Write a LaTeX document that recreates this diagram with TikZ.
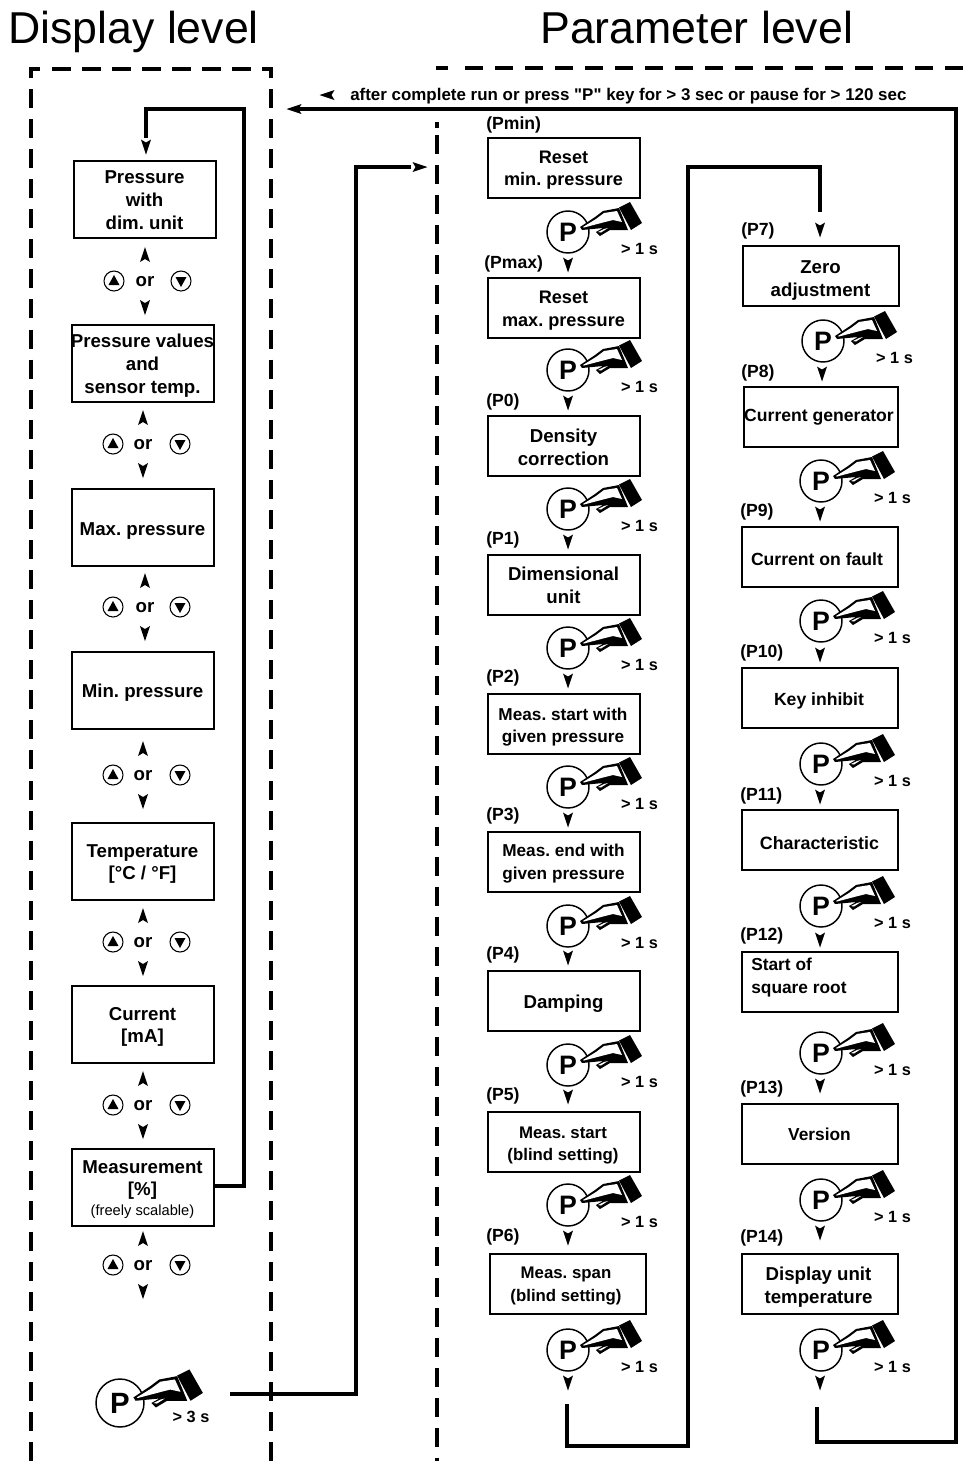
\documentclass[tikz,border=0pt]{standalone}
\usepackage{fontspec}
\setmainfont[Ligatures=TeXOff]{Liberation Sans}
\AtBeginDocument{\frenchspacing}
% name x1 y1 x2 y2 dx dy size text
\newcommand\bx[9]{\node[boxst,minimum width={(#4-#2-1)*0.75pt},minimum height={(#5-#3-1)*0.75pt}] (#1) at ({(#2+#4+1)/2},{(#3+#5+1)/2}) {};
  \node[boxtext,font=\fontsize{#8}{17}\selectfont\bfseries] (#1t) at ({(#2+#4)/2+#6},{(#3+#5)/2+#7}) {#9};}
\newcommand\plab[3]{\node[plabel,anchor=west] at (#1,{#2+1}) {#3};}
\newcommand\adn[2]{\fill[headst,shift={(#1,#2)}] (-5,-7.5) -- (0,-4.5) -- (5,-7.5) -- (0,7.5) -- cycle;}
\newcommand\aup[2]{\fill[headst,shift={(#1,#2)}] (-5,7.5) -- (0,4.5) -- (5,7.5) -- (0,-7.5) -- cycle;}
\newcommand\alf[2]{\fill[headst,shift={(#1,#2)}] (7.5,-5) -- (4.5,0) -- (7.5,5) -- (-7.5,0) -- cycle;}
\newcommand\art[2]{\fill[headst,shift={(#1,#2)}] (-7.5,-5) -- (-4.5,0) -- (-7.5,5) -- (7.5,0) -- cycle;}
\newcommand\handshape{%
  \fill (12,-5) -- (27,-15) -- (35,-21) -- (51,-24) -- (60,-2) -- (42,-2) -- (32,4) -- (28,0) -- (35,-4) -- (14,-2) -- cycle;
  \fill[white] (15,-5) -- (28,-13) -- (36,-19) -- (49,-21) -- (54,-10) -- (45,-12) -- (37,-10) -- (16,-4.5) -- cycle;
  \fill[white] (30,0) -- (36,-3) -- (40,-4) -- (33,.5) -- cycle;
  \fill (51,-24.5) -- (62,-30) -- (74,-9) -- (63,-2) -- cycle;}
\newcommand\pbt[4]{% name, x, y, time
  \node[pcirc] (#1) at (#2,#3) {P};
  \begin{scope}[shift={(#2,#3)}]\handshape\end{scope}
  \node[timest] at ({#2+71.5},{#3+17}) {> #4 s};}
\newcommand\ors[4]{% cx y buttonL buttonR
  \node[orst] at (#1,{#2+1}) {or};
  \aup{#1}{#2-26.5}\adn{#1}{#2+26.5}
  \node[btn] at (#3,#2) {}; \fill ({#3-5.5},{#2+4}) -- ({#3+5.5},{#2+4}) -- (#3,{#2-6}) -- cycle;
  \node[btn] at (#4,#2) {}; \fill ({#4-5.5},{#2-4}) -- ({#4+5.5},{#2-4}) -- (#4,{#2+6}) -- cycle;}
\tikzset{
  boxst/.style={draw,line width=1.5pt,inner sep=0pt,outer sep=0pt},
  boxtext/.style={inner sep=0pt,align=center},
  plabel/.style={inner sep=0pt,font=\fontsize{13.2}{15}\selectfont\bfseries},
  timest/.style={inner sep=0pt,font=\fontsize{12.2}{14}\selectfont\bfseries},
  orst/.style={inner sep=0pt,font=\fontsize{14}{17}\selectfont\bfseries},
  pcirc/.style={circle,draw,line width=1.1pt,fill=white,minimum size=31.5pt,inner sep=0pt,outer sep=0pt,font=\fontsize{20}{20}\selectfont\bfseries},
  btn/.style={circle,draw,line width=.8pt,minimum size=15pt,inner sep=0pt},
  headst/.style={fill=black},
  link/.style={line width=2.4pt,line join=miter},
  frame/.style={line width=2.5pt,line join=miter},
  dashframe/.style={frame,dash pattern=on 14.25pt off 8.3pt},
  title/.style={inner sep=0pt,anchor=base west,font=\fontsize{33.5}{36}\selectfont},
}
\begin{document}
\begin{tikzpicture}[x=0.75pt,y=-0.75pt]
\useasboundingbox (0,0) rectangle (972,1461);
\node[title] at (8,43) {Display level};
\node[title] at (540,43) {Parameter level};
% dashed frames
\draw[frame] (40,69) -- (31,69) -- (31,78);
\draw[frame] (262,69) -- (271,69) -- (271,78);
\draw[dashframe] (52,69) -- (262,69);
\draw[dashframe] (31,89) -- (31,1461);
\draw[dashframe] (271,89) -- (271,1461);
\draw[frame] (437,122) -- (437,128);
\draw[dashframe] (437,135) -- (437,1461);
\draw[frame] (436,68) -- (448,68);
\draw[frame,dash pattern=on 13.7pt off 8.8pt] (465,68) -- (964,68);
% Display boxes
\bx{d1}{73}{160}{216}{238}{0}{1}{14}{Pressure\\with\\dim. unit}
\bx{d2}{71}{324}{214}{402}{0}{2.5}{14}{Pressure values\\and\\sensor temp.}
\bx{d3}{71}{488}{214}{566}{0}{4.5}{14}{Max. pressure}
\bx{d4}{71}{651}{214}{729}{0}{2.5}{14}{Min. pressure}
\bx{d5}{71}{822}{214}{900}{0}{3}{14}{Temperature\\{}[°C / °F]}
\bx{d6}{71}{985}{214}{1063}{0}{3}{14}{Current\\{}[mA]}
\bx{d7}{71}{1148}{214}{1226}{0}{2.5}{14}{Measurement\\{}[\%]\\[-2pt]{\fontsize{11}{13}\selectfont\mdseries (freely scalable)}}
\ors{145}{281}{114}{181}
\ors{143}{444}{113}{180}
\ors{145}{607}{113}{180}
\ors{143}{775}{113}{180}
\ors{143}{942}{113}{180}
\ors{143}{1105}{113}{180}
\ors{143}{1265}{113}{180}
\adn{146}{147}
% left parameter column
\bx{a0}{487}{137}{640}{198}{0}{2.5}{13.6}{Reset\\min. pressure}
\bx{a1}{487}{277}{640}{338}{0}{3}{13.6}{Reset\\max. pressure}
\bx{a2}{487}{415}{640}{476}{0}{1.5}{14}{Density\\correction}
\bx{a3}{487}{554}{640}{615}{0}{0.5}{14}{Dimensional\\unit}
\bx{a4}{487}{693}{640}{754}{-.5}{3.5}{12.9}{Meas. start with\\given pressure}
\bx{a5}{487}{831}{640}{892}{0}{2}{12.9}{Meas. end with\\given pressure}
\bx{a6}{487}{970}{640}{1031}{0}{3}{14}{Damping}
\bx{a7}{487}{1111}{640}{1172}{-.5}{4}{12.6}{Meas. start\\(blind setting)}
\bx{a8}{489}{1253}{646}{1314}{-1.5}{2.5}{12.6}{Meas. span\\(blind setting)}
\plab{486}{124}{(Pmin)}
\plab{484}{263}{(Pmax)}
\plab{486}{401}{(P0)}
\plab{486}{539}{(P1)}
\plab{486}{677}{(P2)}
\plab{486}{815}{(P3)}
\plab{486}{954}{(P4)}
\plab{486}{1095}{(P5)}
\plab{486}{1236}{(P6)}
% right parameter column
\bx{b0}{742}{245}{899}{306}{0}{5}{14}{Zero\\adjustment}
\bx{b1}{743}{386}{898}{447}{-1.5}{1}{13.2}{Current generator}
\bx{b2}{741}{526}{898}{587}{-2.5}{2.5}{13.2}{Current on fault}
\bx{b3}{741}{667}{898}{728}{-.5}{3.5}{13.2}{Key inhibit}
\bx{b4}{741}{809}{898}{870}{0}{3.5}{13.4}{Characteristic}
\node[boxst,minimum width={156*0.75pt},minimum height={60*0.75pt}] (b5) at (820,982) {};
\node[boxtext,align=left,anchor=west,font=\fontsize{13}{17}\selectfont\bfseries] (b5t) at (751,977.5) {Start of\\square root};
\bx{b6}{741}{1103}{898}{1164}{0}{0.5}{13}{Version}
\bx{b7}{741}{1253}{898}{1314}{-1}{3.5}{14}{Display unit\\temperature}
\plab{741}{230}{(P7)}
\plab{741}{372}{(P8)}
\plab{740}{511}{(P9)}
\plab{740}{652}{(P10)}
\plab{740}{795}{(P11)}
\plab{740}{935}{(P12)}
\plab{740}{1088}{(P13)}
\plab{740}{1237}{(P14)}
% P keys
\pbt{pa0}{568}{232}{1}\adn{568}{265}
\pbt{pa1}{568}{370}{1}\adn{568}{403}
\pbt{pa2}{568}{509}{1}\adn{568}{542}
\pbt{pa3}{568}{648}{1}\adn{568}{681}
\pbt{pa4}{568}{787}{1}\adn{568}{820}
\pbt{pa5}{568}{926}{1}\adn{568}{958}
\pbt{pa6}{568}{1065}{1}\adn{568}{1097}
\pbt{pa7}{568}{1205}{1}\adn{568}{1238}
\pbt{pa8}{568}{1350}{1}\adn{568}{1383}
\pbt{pb0}{823}{341}{1}\adn{822}{374}
\pbt{pb1}{821}{481}{1}\adn{820}{514}
\pbt{pb2}{821}{621}{1}\adn{820}{655}
\pbt{pb3}{821}{764}{1}\adn{820}{797}
\pbt{pb4}{821}{906}{1}\adn{820}{940}
\pbt{pb5}{821}{1053}{1}\adn{820}{1086}
\pbt{pb6}{821}{1200}{1}\adn{820}{1233}
\pbt{pb7}{821}{1350}{1}\adn{820}{1383}
\adn{820}{230}
% big key
\node[pcirc,minimum size=36pt,font=\fontsize{22}{22}\selectfont\bfseries] (pd) at (120,1403) {P};
\begin{scope}[shift={(120,1403)},scale=1.12]\handshape\end{scope}
\node[timest] at (191,1417) {> 3 s};
% connectors
\coordinate (c1) at (146,138);
\coordinate (c2) at (230,1394);
\coordinate (c3) at (411,167);
\coordinate (c4) at (567,1404);
\coordinate (c5) at (820,212);
\coordinate (c6) at (817,1407);
\coordinate (c7) at (292,109);
\draw[link] (d7.east |- 0,1186) -- (244,1186) -- (244,109) -- (146,109) -- (c1);
\draw[link] (c2) -- (356,1394) -- (356,167) -- (c3);
\draw[link] (c4) -- (567,1446) -- (688,1446) -- (688,167) -- (820,167) -- (c5);
\draw[link] (c6) -- (817,1442) -- (956,1442) -- (956,109) -- (c7);
\alf{294}{109}
\art{420}{167}
\alf{327}{95}
\node[anchor=west,inner sep=0pt,font=\fontsize{12.7}{14}\selectfont\bfseries] at (350,96) {after complete run or press "P" key for > 3 sec or pause for > 120 sec};
\end{tikzpicture}
\end{document}
